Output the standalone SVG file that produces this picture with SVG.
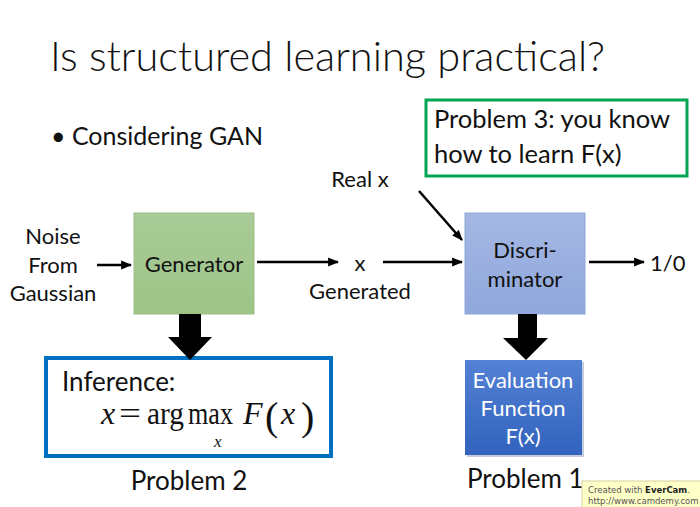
<svg xmlns="http://www.w3.org/2000/svg" width="700" height="507" viewBox="0 0 700 507">
<defs>
<style>
.t{font-family:Lato,"Open Sans","Liberation Sans",sans-serif;fill:#111;}
.m{font-family:"Liberation Serif","Times New Roman",serif;fill:#111;}
.c{stroke:#000;stroke-width:2.5;fill:none;}
</style>
<marker id="ah" viewBox="0 0 10 10" refX="9" refY="5" markerWidth="4.4" markerHeight="4.4" orient="auto" markerUnits="strokeWidth">
<path d="M0,1 L10,5 L0,9 Z" fill="#000"/>
</marker>
<linearGradient id="gG" x1="0" y1="0" x2="0" y2="1"><stop offset="0" stop-color="#A9CB97"/><stop offset="1" stop-color="#9DC487"/></linearGradient>
<linearGradient id="gD" x1="0" y1="0" x2="0" y2="1"><stop offset="0" stop-color="#A5B8E3"/><stop offset="1" stop-color="#8FA7DC"/></linearGradient>
<linearGradient id="gE" x1="0" y1="0" x2="0" y2="1"><stop offset="0" stop-color="#5381D4"/><stop offset="1" stop-color="#3263BD"/></linearGradient>
</defs>
<rect width="700" height="507" fill="#fff"/>
<text class="t" x="50" y="71" font-size="41" font-weight="300" textLength="555" lengthAdjust="spacingAndGlyphs">Is structured learning practical?</text>
<text class="t" x="51" y="145" font-size="25">• Considering GAN</text>

<g id="noise"><text class="t" font-size="22" text-anchor="middle"><tspan x="53" y="244">Noise</tspan><tspan x="53" y="273">From</tspan><tspan x="53" y="301">Gaussian</tspan></text></g>

<g id="generator">
<rect x="134" y="213" width="120" height="101" fill="url(#gG)" stroke="#9BBF87" stroke-width="1"/>
<text class="t" x="194" y="272" font-size="22" text-anchor="middle">Generator</text>
</g>

<g id="xgen">
<text class="t" x="360" y="271" font-size="22" text-anchor="middle">x</text>
<text class="t" x="360" y="299" font-size="22" text-anchor="middle">Generated</text>
</g>

<g id="realx"><text class="t" x="360" y="187" font-size="22" text-anchor="middle">Real x</text></g>

<g id="discriminator">
<rect x="465" y="213" width="120" height="101" fill="url(#gD)" stroke="#8FA6D8" stroke-width="1"/>
<text class="t" font-size="22" text-anchor="middle"><tspan x="525" y="258">Discri-</tspan><tspan x="525" y="287">minator</tspan></text>
</g>

<g id="out"><text class="t" x="650" y="271" font-size="22">1/0</text></g>

<g id="problem3">
<rect x="426" y="100" width="261" height="76" fill="#fff" stroke="#00A651" stroke-width="3"/>
<text class="t" font-size="25.5"><tspan x="434" y="128">Problem 3: you know</tspan><tspan x="434" y="163">how to learn F(x)</tspan></text>
</g>

<g id="inference">
<rect x="46" y="358" width="285" height="98" fill="#fff" stroke="#0070C0" stroke-width="4"/>
<text class="t" x="62" y="391" font-size="26">Inference:</text>
<text class="m" font-size="32" y="424"><tspan x="101" font-style="italic">x</tspan><tspan x="119" textLength="22" lengthAdjust="spacingAndGlyphs">=</tspan><tspan x="147" textLength="37" lengthAdjust="spacingAndGlyphs">arg</tspan><tspan x="188" textLength="45" lengthAdjust="spacingAndGlyphs">max</tspan><tspan x="243" font-style="italic">F</tspan><tspan x="265" y="430" font-size="40">(</tspan><tspan x="281" y="424" font-style="italic">x</tspan><tspan x="301" y="430" font-size="40">)</tspan></text>
<text class="m" x="214" y="447" font-size="17" font-style="italic">x</text>
</g>

<g id="evaluation">
<rect x="467" y="362" width="117" height="95" fill="#8A9BB8" opacity="0.5"/>
<rect x="465" y="360" width="117" height="95" fill="url(#gE)"/>
<text font-family="Lato,'Open Sans','Liberation Sans',sans-serif" fill="#fff" font-size="22" text-anchor="middle"><tspan x="523" y="388">Evaluation</tspan><tspan x="523" y="416">Function</tspan><tspan x="523" y="444">F(x)</tspan></text>
</g>

<text class="t" x="189" y="490" font-size="26" text-anchor="middle">Problem 2</text>
<text class="t" x="467" y="488" font-size="26">Problem 1</text>

<g id="connectors">
<line class="c" x1="97" y1="265" x2="131" y2="265" marker-end="url(#ah)"/>
<line class="c" x1="257" y1="262" x2="338" y2="262" marker-end="url(#ah)"/>
<line class="c" x1="383" y1="262" x2="462" y2="262" marker-end="url(#ah)"/>
<line class="c" x1="589" y1="262" x2="644" y2="262" marker-end="url(#ah)"/>
<line class="c" x1="419" y1="191" x2="462" y2="240" marker-end="url(#ah)"/>
<path d="M179,314 H201 V337 H212 L190,360 L168,337 H179 Z" fill="#000"/>
<path d="M518,314 H537 V338 H548 L526,360 L503,338 H518 Z" fill="#000"/>
</g>

<g id="watermark">
<rect x="582" y="481" width="120" height="28" fill="#FFFFC8" stroke="#D8D0A0" stroke-width="1"/>
<text font-family="'DejaVu Sans',sans-serif" font-size="8.5" fill="#555"><tspan x="588" y="493">Created with <tspan font-weight="bold" fill="#222">EverCam</tspan>.</tspan><tspan x="588" y="504">http://www.camdemy.com</tspan></text>
</g>
</svg>
